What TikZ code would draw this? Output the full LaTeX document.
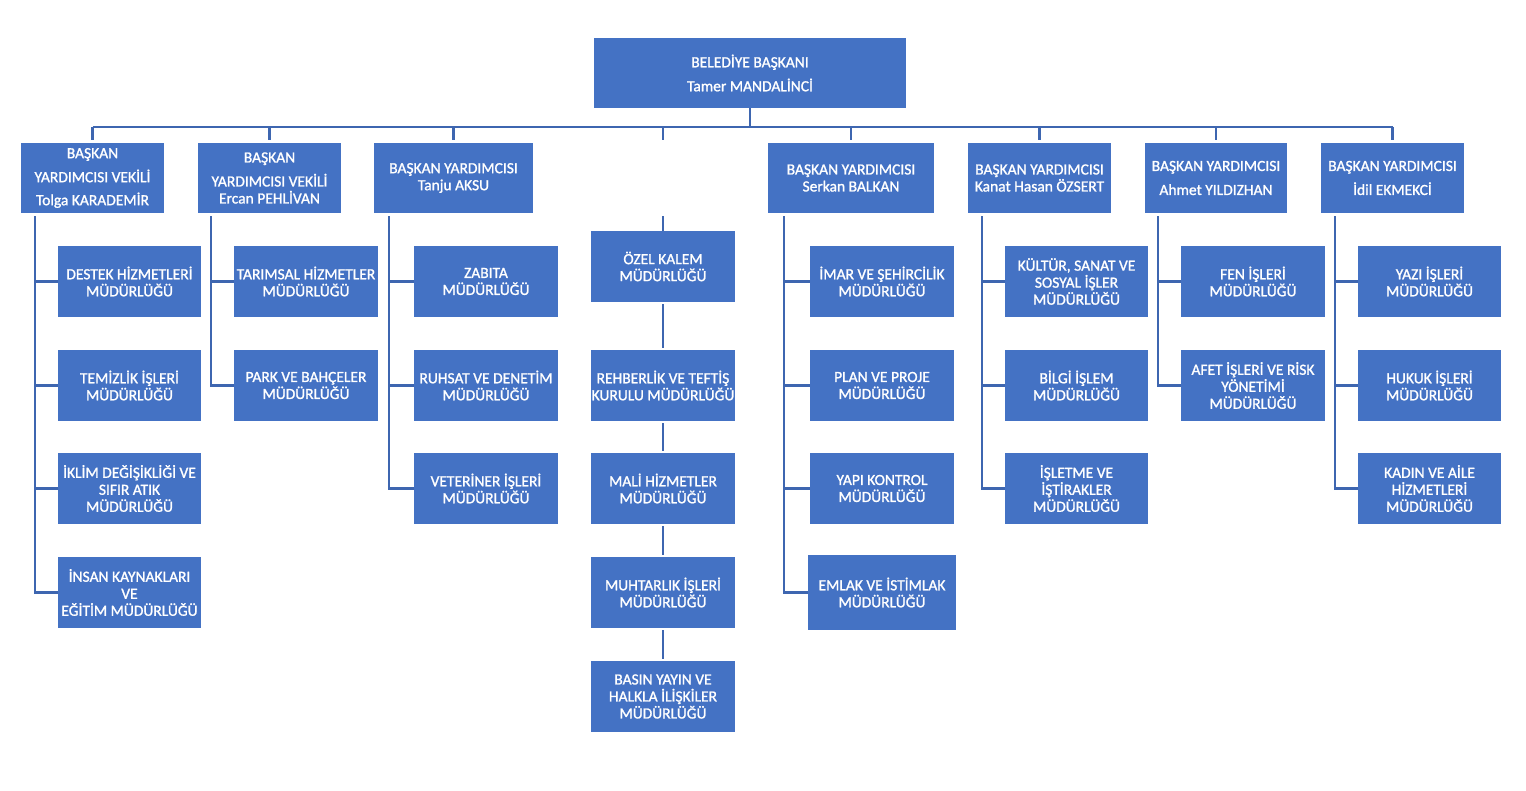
\documentclass[tikz,border=0pt]{standalone}
\usepackage{fontspec}
\setmainfont{Carlito}[FakeBold=1.2]
\definecolor{boxblue}{HTML}{4472C4}
\definecolor{lineblue}{HTML}{3E66B0}
\tikzset{
  obox/.style={rectangle, fill=boxblue, draw=none, inner sep=0pt, align=center,
    text=white, font=\fontsize{15.5}{17}\selectfont},
  conn/.style={draw=lineblue, line width=2.4pt},
}
\newcommand\obox[6]{%
  \node[obox, minimum width={(#4-#2)*1pt}, minimum height={(#5-#3)*1pt}] (#1) at ({(#2+#4)/2},{(#3+#5)/2}) {#6};}
\begin{document}
\begin{tikzpicture}[x=1pt,y=-1pt]
\useasboundingbox (0,0) rectangle (1526,791);
% top
\obox{top}{594}{38}{906}{108}{BELEDİYE BAŞKANI\\[7pt]Tamer MANDALİNCİ}
% level 2
\obox{l1}{21}{143}{164}{213}{BAŞKAN\\[7pt]YARDIMCISI VEKİLİ\\[6pt]Tolga KARADEMİR}
\obox{l2}{198}{143}{341}{213}{BAŞKAN\\[7pt]YARDIMCISI VEKİLİ\\Ercan PEHLİVAN}
\obox{l3}{374}{143}{533}{213}{BAŞKAN YARDIMCISI\\Tanju AKSU}
\node[minimum width=100pt, minimum height=70pt, inner sep=0pt] (l4) at (663,178) {};
\obox{l5}{768}{143}{934}{213}{BAŞKAN YARDIMCISI\\Serkan BALKAN}
\obox{l6}{968}{143}{1111}{213}{BAŞKAN YARDIMCISI\\Kanat Hasan ÖZSERT}
\obox{l7}{1145}{143}{1287}{213}{BAŞKAN YARDIMCISI\\[7pt]Ahmet YILDIZHAN}
\obox{l8}{1321}{143}{1464}{213}{BAŞKAN YARDIMCISI\\[7pt]İdil EKMEKCİ}
% column 1
\obox{a1}{58}{246}{201}{317}{DESTEK HİZMETLERİ\\MÜDÜRLÜĞÜ}
\obox{a2}{58}{350}{201}{421}{TEMİZLİK İŞLERİ\\MÜDÜRLÜĞÜ}
\obox{a3}{58}{453}{201}{524}{İKLİM DEĞİŞİKLİĞİ VE\\SIFIR ATIK\\MÜDÜRLÜĞÜ}
\obox{a4}{58}{557}{201}{628}{İNSAN KAYNAKLARI\\VE\\EĞİTİM MÜDÜRLÜĞÜ}
% column 2
\obox{b1}{234}{246}{378}{317}{TARIMSAL HİZMETLER\\MÜDÜRLÜĞÜ}
\obox{b2}{234}{350}{378}{421}{PARK VE BAHÇELER\\MÜDÜRLÜĞÜ}
% column 3
\obox{c1}{414}{246}{558}{317}{ZABITA\\MÜDÜRLÜĞÜ}
\obox{c2}{414}{350}{558}{421}{RUHSAT VE DENETİM\\MÜDÜRLÜĞÜ}
\obox{c3}{414}{453}{558}{524}{VETERİNER İŞLERİ\\MÜDÜRLÜĞÜ}
% middle column
\obox{d1}{591}{231}{735}{302}{ÖZEL KALEM\\MÜDÜRLÜĞÜ}
\obox{d2}{591}{350}{735}{421}{REHBERLİK VE TEFTİŞ\\KURULU MÜDÜRLÜĞÜ}
\obox{d3}{591}{453}{735}{524}{MALİ HİZMETLER\\MÜDÜRLÜĞÜ}
\obox{d4}{591}{557}{735}{628}{MUHTARLIK İŞLERİ\\MÜDÜRLÜĞÜ}
\obox{d5}{591}{661}{735}{732}{BASIN YAYIN VE\\HALKLA İLİŞKİLER\\MÜDÜRLÜĞÜ}
% column 5
\obox{e1}{810}{246}{954}{317}{İMAR VE ŞEHİRCİLİK\\MÜDÜRLÜĞÜ}
\obox{e2}{810}{350}{954}{421}{PLAN VE PROJE\\MÜDÜRLÜĞÜ}
\obox{e3}{810}{453}{954}{524}{YAPI KONTROL\\MÜDÜRLÜĞÜ}
\obox{e4}{808}{555}{956}{630}{EMLAK VE İSTİMLAK\\MÜDÜRLÜĞÜ}
% column 6
\obox{f1}{1005}{246}{1148}{317}{KÜLTÜR, SANAT VE\\SOSYAL İŞLER\\MÜDÜRLÜĞÜ}
\obox{f2}{1005}{350}{1148}{421}{BİLGİ İŞLEM\\MÜDÜRLÜĞÜ}
\obox{f3}{1005}{453}{1148}{524}{İŞLETME VE\\İŞTİRAKLER\\MÜDÜRLÜĞÜ}
% column 7
\obox{g1}{1181}{246}{1325}{317}{FEN İŞLERİ\\MÜDÜRLÜĞÜ}
\obox{g2}{1181}{350}{1325}{421}{AFET İŞLERİ VE RİSK\\YÖNETİMİ\\MÜDÜRLÜĞÜ}
% column 8
\obox{h1}{1358}{246}{1501}{317}{YAZI İŞLERİ\\MÜDÜRLÜĞÜ}
\obox{h2}{1358}{350}{1501}{421}{HUKUK İŞLERİ\\MÜDÜRLÜĞÜ}
\obox{h3}{1358}{453}{1501}{524}{KADIN VE AİLE\\HİZMETLERİ\\MÜDÜRLÜĞÜ}

% bus
\coordinate (bus) at (750,127);
\draw[conn] (top.south) -- (bus);
\draw[conn] (l1.north |- bus) -- (l8.north |- bus);
\foreach \n in {l1,l2,l3,l4,l5,l6,l7,l8}
  \draw[conn, shorten >=3pt] (\n.north |- bus) -- (\n.north);
% middle chain
\draw[conn, shorten <=3pt] (l4.south) -- (d1.north);
\draw[conn, shorten <=2pt, shorten >=2pt] (d1.south) -- (d2.north);
\draw[conn, shorten <=2pt, shorten >=2pt] (d2.south) -- (d3.north);
\draw[conn, shorten <=2pt, shorten >=2pt] (d3.south) -- (d4.north);
\draw[conn, shorten <=2pt, shorten >=2pt] (d4.south) -- (d5.north);
% trunks
\coordinate (ta) at ([xshift=14pt,yshift=-3pt]l1.south west);
\coordinate (tb) at ([xshift=13pt,yshift=-3pt]l2.south west);
\coordinate (tc) at ([xshift=15pt,yshift=-3pt]l3.south west);
\coordinate (te) at ([xshift=16pt,yshift=-3pt]l5.south west);
\coordinate (tf) at ([xshift=14pt,yshift=-3pt]l6.south west);
\coordinate (tg) at ([xshift=13pt,yshift=-3pt]l7.south west);
\coordinate (th) at ([xshift=14pt,yshift=-3pt]l8.south west);
\draw[conn] (ta) |- (a4.west);
\foreach \n in {a1,a2,a3} \draw[conn] (ta |- \n.west) -- (\n.west);
\draw[conn] (tb) |- (b2.west);
\draw[conn] (tb |- b1.west) -- (b1.west);
\draw[conn] (tc) |- (c3.west);
\foreach \n in {c1,c2} \draw[conn] (tc |- \n.west) -- (\n.west);
\draw[conn] (te) |- (e4.west);
\foreach \n in {e1,e2,e3} \draw[conn] (te |- \n.west) -- (\n.west);
\draw[conn] (tf) |- (f3.west);
\foreach \n in {f1,f2} \draw[conn] (tf |- \n.west) -- (\n.west);
\draw[conn] (tg) |- (g2.west);
\draw[conn] (tg |- g1.west) -- (g1.west);
\draw[conn] (th) |- (h3.west);
\foreach \n in {h1,h2} \draw[conn] (th |- \n.west) -- (\n.west);
\end{tikzpicture}
\end{document}
